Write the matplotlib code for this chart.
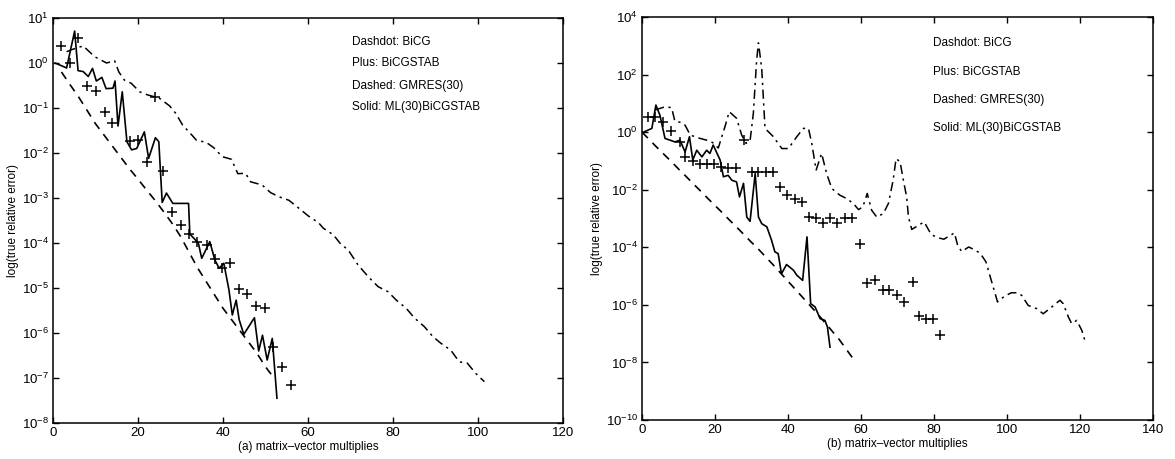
import numpy as np
import matplotlib
matplotlib.use('Agg')
import matplotlib.pyplot as plt
from matplotlib.ticker import LogLocator, NullFormatter

plt.rcParams['font.family'] = ['Liberation Sans', 'DejaVu Sans']
plt.rcParams['mathtext.fontset'] = 'custom'
plt.rcParams['mathtext.rm'] = 'Liberation Sans'
plt.rcParams['mathtext.it'] = 'Liberation Sans'

# ---- panel (a): x = matrix-vector multiplies, y = log10(true relative error)
a_bicg_x = [3.2, 4.5, 7.1, 9.8, 12.6, 14.5, 15.5, 16.8, 18.4, 20.4, 22.3, 25.0, 27.4,
            28.9, 30.5, 32.0, 33.8, 36.0, 37.8, 39.8, 42.0, 43.5, 45.3, 46.5, 49.2,
            51.2, 53.1, 55.5, 57.5, 60.1, 62.5, 63.6, 66.0, 67.5, 69.5, 71.8, 74.2,
            76.5, 78.8, 80.8, 83.1, 85.1, 87.4, 89.4, 91.3, 93.6, 95.6, 97.5, 99.5, 101.5]
a_bicg_log = [0.25, 0.3, 0.38, 0.14, 0.0, 0.05, -0.2, -0.38, -0.45, -0.64, -0.71, -0.78,
              -0.95, -1.12, -1.38, -1.53, -1.72, -1.76, -1.88, -2.08, -2.14, -2.46, -2.45,
              -2.64, -2.71, -2.88, -2.97, -3.05, -3.2, -3.4, -3.55, -3.67, -3.82, -4.0,
              -4.16, -4.49, -4.75, -4.97, -5.08, -5.27, -5.45, -5.67, -5.86, -6.08, -6.23,
              -6.38, -6.64, -6.67, -6.9, -7.08]

a_stab_x = [2.0, 4.0, 5.9, 8.0, 10.1, 12.2, 13.9, 18.2, 20.0, 22.1, 24.1, 26.0, 28.0,
            30.1, 32.0, 34.0, 36.3, 38.2, 39.8, 41.7, 43.7, 45.6, 47.7, 49.8, 51.7, 53.9, 56.1]
a_stab_log = [0.38, 0.0, 0.55, -0.51, -0.62, -1.10, -1.34, -1.73, -1.71, -2.19, -0.75,
              -2.4, -3.3, -3.59, -3.8, -3.98, -4.04, -4.35, -4.55, -4.45, -5.02, -5.13,
              -5.41, -5.45, -6.3, -6.75, -7.16]

a_gmres_x = [2, 4, 6, 8, 10, 12, 14, 16, 18, 20, 22, 24, 26, 28, 30, 32, 34, 36, 38, 40,
             42, 44, 46, 48, 50, 52]
a_gmres_log = [-0.2, -0.48, -0.75, -1.05, -1.35, -1.6, -1.85, -2.1, -2.35, -2.58, -2.82,
               -3.05, -3.3, -3.56, -3.85, -4.2, -4.55, -4.85, -5.15, -5.45, -5.7, -5.95,
               -6.2, -6.45, -6.75, -7.0]

a_ml_x = [0.5, 3.2, 5.1, 5.9, 7.1, 8.3, 9.3, 10.2, 11.5, 12.5, 14.1, 14.6, 15.3, 16.3,
          17.4, 18.5, 19.7, 21.5, 22.5, 24.1, 24.9, 25.7, 26.7, 28.2, 31.9, 32.2, 33.2,
          34.2, 35.0, 36.9, 38.1, 39.1, 40.2, 41.4, 42.2, 43.1, 43.8, 44.9, 47.4, 48.4,
          49.3, 50.4, 51.6, 52.7]
a_ml_log = [0.0, -0.11, 0.71, -0.17, -0.19, -0.3, -0.12, -0.40, -0.32, -0.57, -0.56,
            -0.40, -1.4, -0.64, -1.75, -1.93, -1.90, -1.53, -2.12, -1.66, -1.75, -3.1,
            -2.89, -3.12, -3.12, -3.8, -3.9, -4.0, -4.34, -3.97, -4.38, -4.56, -4.45,
            -5.04, -5.6, -5.27, -5.7, -6.03, -5.66, -6.4, -6.05, -6.6, -6.12, -7.45]

# ---- panel (b)
b_bicg_x = [3.6, 6.3, 8.1, 9.0, 10.9, 11.8, 13.2, 15.4, 17.7, 19.3, 20.9, 22.7, 23.9,
            25.9, 27.3, 28.5, 29.6, 30.5, 31.4, 31.9, 32.8, 33.7, 36.0, 38.3, 40.1, 42.4,
            44.2, 45.6, 46.5, 47.7, 49.2, 50.6, 52.0, 54.2, 56.1, 57.9, 59.3, 60.5, 61.7,
            62.9, 64.3, 66.1, 67.5, 68.8, 69.6, 70.7, 71.6, 72.5, 73.0, 73.9, 76.2, 77.3,
            79.2, 80.8, 82.7, 84.0, 85.6, 86.5, 87.6, 89.5, 90.5, 92.6, 94.2, 95.8, 97.4,
            99.3, 101.2, 102.9, 104.0, 105.8, 108.1, 109.9, 112.2, 114.5, 115.4, 116.8,
            117.7, 119.1, 120.5, 121.6]
b_bicg_log = [0.77, 0.88, 0.85, 0.38, 0.33, 0.24, -0.1, -0.2, -0.28, -0.36, -0.55, 0.18,
              0.71, 0.48, -0.1, -0.39, -0.3, 0.65, 2.5, 3.1, 2.2, 0.13, -0.16, -0.57, -0.57,
              -0.16, 0.13, 0.13, -0.39, -1.32, -0.74, -1.45, -1.96, -2.19, -2.31, -2.48,
              -2.69, -2.6, -2.13, -2.71, -2.95, -2.83, -2.48, -1.67, -0.92, -1.03, -1.67,
              -2.25, -2.95, -3.38, -3.2, -3.12, -3.55, -3.66, -3.72, -3.62, -3.5, -3.95,
              -4.15, -3.99, -4.05, -4.2, -4.5, -5.2, -5.9, -5.7, -5.58, -5.58, -5.67, -6.02,
              -6.13, -6.31, -6.08, -5.84, -5.96, -6.42, -6.65, -6.54, -6.89, -7.35]

b_stab_x = [1.7, 3.6, 5.8, 7.9, 10.4, 11.8, 13.9, 15.9, 17.7, 19.7, 21.6, 23.6, 25.7,
            27.9, 30.0, 31.9, 34.0, 36.0, 37.8, 39.8, 41.9, 43.8, 45.8, 47.6, 49.6, 51.5,
            53.5, 55.7, 57.6, 59.7, 61.7, 63.8, 65.9, 67.7, 69.8, 71.8, 74.2, 75.9, 77.8,
            79.8, 81.6]
b_stab_log = [0.51, 0.51, 0.34, 0.05, -0.34, -0.86, -1.0, -1.11, -1.11, -1.11, -1.2,
              -1.23, -1.23, -0.28, -1.4, -1.4, -1.4, -1.4, -1.9, -2.18, -2.31, -2.44,
              -2.96, -2.98, -3.14, -3.0, -3.14, -2.98, -2.98, -3.9, -5.24, -5.15, -5.47,
              -5.5, -5.67, -5.9, -5.21, -6.38, -6.48, -6.48, -7.04]

b_gmres_x = [0, 2, 4, 6, 8, 10, 12, 14, 16, 18, 20, 22, 24, 26, 28, 30, 32, 34, 36, 38,
             40, 42, 44, 46, 48, 50, 52, 54, 56, 58]
b_gmres_log = [0.0, -0.26, -0.52, -0.77, -1.02, -1.28, -1.53, -1.79, -2.04, -2.3, -2.55,
               -2.8, -3.06, -3.31, -3.57, -3.83, -4.08, -4.35, -4.62, -4.9, -5.18, -5.46,
               -5.74, -6.02, -6.3, -6.6, -6.9, -7.2, -7.55, -7.9]

b_ml_x = [0.4, 2.7, 3.8, 4.9, 6.3, 7.7, 9.0, 10.4, 11.8, 13.0, 13.9, 15.0, 16.4, 17.7,
          18.6, 19.5, 21.4, 22.3, 23.6, 24.6, 25.9, 26.7, 27.8, 28.7, 29.6, 31.0, 31.9,
          32.8, 34.2, 35.5, 36.4, 37.3, 38.2, 39.6, 41.5, 42.4, 44.0, 45.2, 46.2, 47.4,
          48.8, 50.1, 50.8, 51.5]
b_ml_log = [0.0, 0.13, 0.94, 0.59, -0.22, -0.28, -0.34, -0.28, -0.69, -0.16, -0.97,
            -0.63, -0.86, -0.63, -0.74, -0.45, -0.97, -1.55, -1.5, -1.67, -1.73, -2.25,
            -1.78, -2.95, -3.1, -1.44, -2.95, -3.18, -3.29, -3.76, -4.16, -4.22, -4.92,
            -4.6, -4.8, -4.97, -5.15, -3.64, -5.96, -6.07, -6.48, -6.54, -6.77, -7.47]

legend_lines = ['Dashdot: BiCG', 'Plus: BiCGSTAB', 'Dashed: GMRES(30)', 'Solid: ML(30)BiCGSTAB']

fig = plt.figure(figsize=(11.75, 4.59), dpi=100)
ax1 = fig.add_axes([0.0451, 0.0784, 0.4340, 0.8824])
ax2 = fig.add_axes([0.5464, 0.0850, 0.4349, 0.8780])


def draw(ax, bicg, stab, gmres, ml):
    ax.plot(bicg[0], 10.0 ** np.array(bicg[1]), color='black',
            linestyle=(0, (6, 3, 1.5, 3)), linewidth=1.1)
    ax.plot(stab[0], 10.0 ** np.array(stab[1]), color='black', linestyle='none',
            marker='+', markersize=7, markeredgewidth=1.1)
    ax.plot(gmres[0], 10.0 ** np.array(gmres[1]), color='black', linestyle=(0, (5, 4)),
            linewidth=1.2)
    ax.plot(ml[0], 10.0 ** np.array(ml[1]), color='black', linestyle='-', linewidth=1.2)
    ax.set_yscale('log')
    ax.tick_params(which='both', direction='in', top=True, right=True, labelsize=9.5,
                   width=1, pad=3)
    ax.tick_params(which='major', length=4)
    ax.tick_params(which='minor', length=2)
    ax.yaxis.set_minor_locator(LogLocator(base=10, subs=np.arange(2, 10)))
    ax.yaxis.set_minor_formatter(NullFormatter())
    ax.set_ylabel('log(true relative error)', fontsize=8.5, labelpad=2)
    for s in ax.spines.values():
        s.set_linewidth(1.1)


draw(ax1, (a_bicg_x, a_bicg_log), (a_stab_x, a_stab_log), (a_gmres_x, a_gmres_log),
     (a_ml_x, a_ml_log))
ax1.set_xlim(0, 120)
ax1.set_ylim(1e-8, 1e1)
ax1.set_xticks(np.arange(0, 121, 20))
ax1.set_yticks([10.0 ** k for k in range(-8, 2)])
ax1.set_xlabel('(a) matrix\u2013vector multiplies', fontsize=8.5, labelpad=1)

draw(ax2, (b_bicg_x, b_bicg_log), (b_stab_x, b_stab_log), (b_gmres_x, b_gmres_log),
     (b_ml_x, b_ml_log))
ax2.set_xlim(0, 140)
ax2.set_ylim(1e-10, 1e4)
ax2.set_xticks(np.arange(0, 141, 20))
ax2.set_yticks([10.0 ** k for k in range(-10, 5, 2)])
ax2.set_xlabel('(b) matrix\u2013vector multiplies', fontsize=8.5, labelpad=1)

# legend text, placed as plain text like the original
for i, t in enumerate(legend_lines):
    ax1.text(0.586, [0.941, 0.889, 0.832, 0.780][i], t, transform=ax1.transAxes,
             fontsize=8.5, va='center', ha='left')
    ax2.text(0.569, [0.935, 0.864, 0.794, 0.725][i], t, transform=ax2.transAxes,
             fontsize=8.5, va='center', ha='left')

fig.savefig('out.png', dpi=100)
